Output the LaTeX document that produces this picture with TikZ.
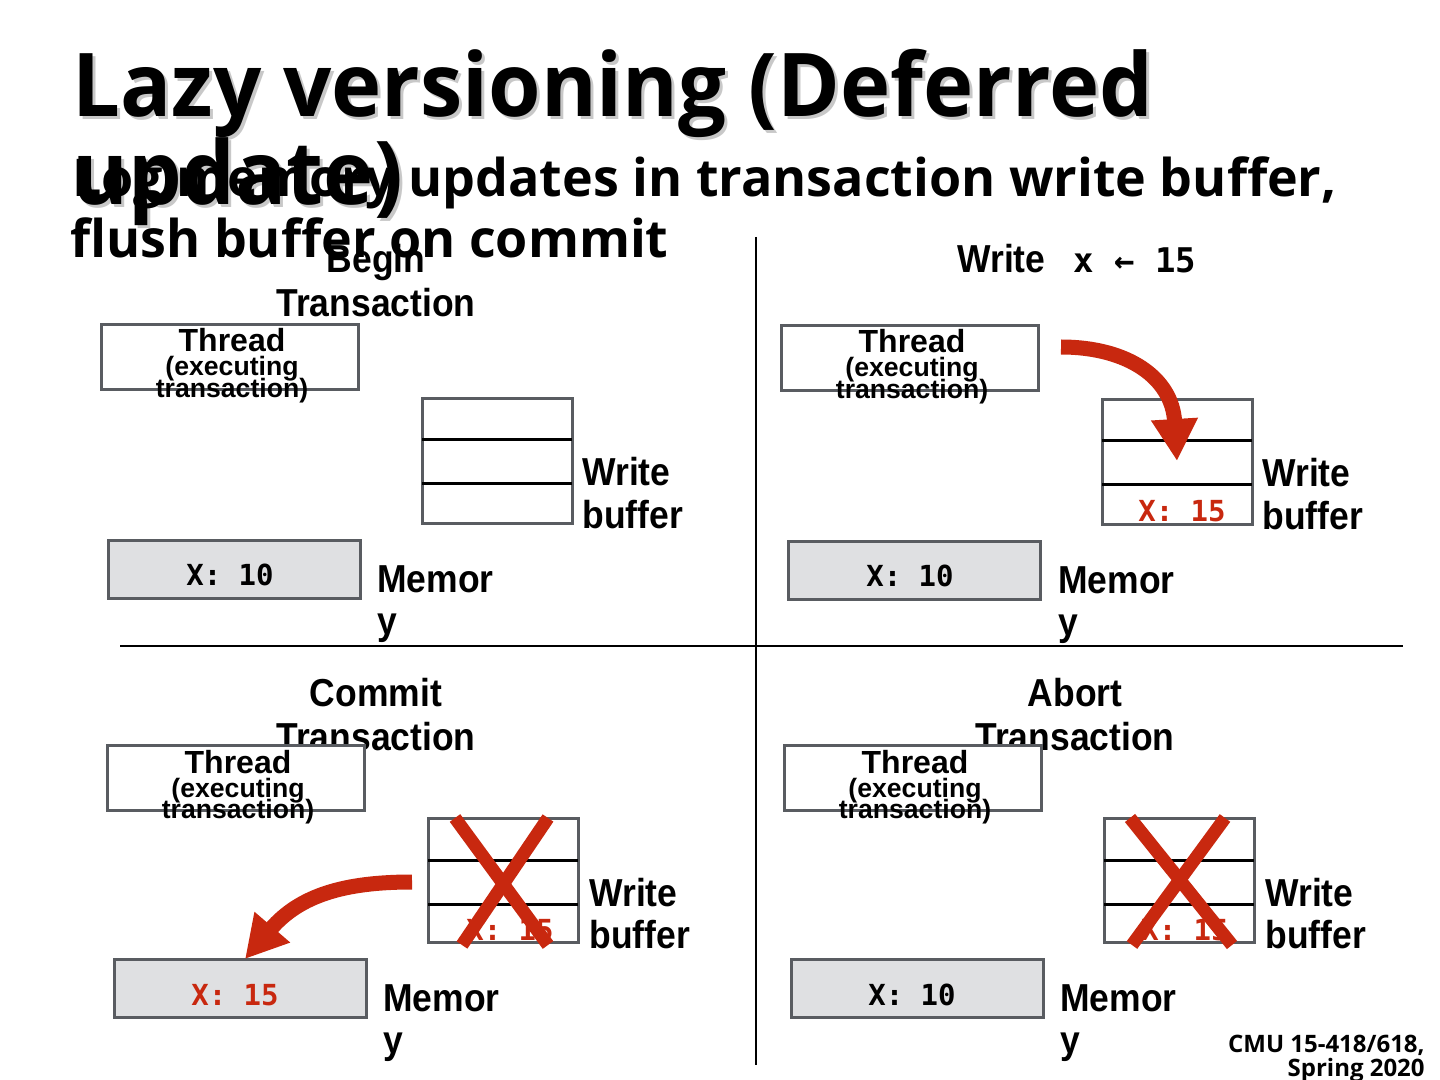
\documentclass[tikz,border=0pt]{standalone}
\usepackage{fontspec}
\setmainfont{Liberation Sans}
\newfontfamily\titlefont[FakeStretch=0.965]{Open Sans}
\newfontfamily\subfont{Open Sans}
\newfontfamily\lblfont[FakeStretch=0.91]{Liberation Sans}
\newfontfamily\thrfont{Liberation Sans}
\newfontfamily\monofont{DejaVu Sans Mono}
\usetikzlibrary{arrows.meta}
\definecolor{boxgray}{RGB}{89,92,97}
\definecolor{memgray}{RGB}{223,224,226}
\definecolor{redc}{RGB}{200,40,15}
\definecolor{shadowgray}{RGB}{200,200,200}
\tikzset{
  box/.style={draw=boxgray, line width=1.5pt, inner sep=0pt, rectangle},
  threadbox/.style={box, fill=white, minimum width=128.5pt, minimum height=32.5pt},
  membox/.style={box, fill=memgray, minimum width=126pt, minimum height=29pt},
  bufbox/.style={box, fill=white, minimum width=75pt, minimum height=62pt},
  txt/.style={inner sep=0pt, anchor=base west},
  ctxt/.style={inner sep=0pt, anchor=base},
  lbl/.style={txt, font=\lblfont\bfseries\fontsize{19.5}{22}\selectfont},
  clbl/.style={ctxt, font=\lblfont\bfseries\fontsize{19.5}{22}\selectfont},
  thr/.style={ctxt, font=\thrfont\bfseries\fontsize{16}{18}\selectfont},
  thrs/.style={ctxt, font=\thrfont\bfseries\fontsize{13.3}{14}\selectfont},
  mono/.style={ctxt, font=\monofont\bfseries\fontsize{14.5}{16}\selectfont},
  redmono/.style={mono, text=redc},
  bufline/.style={black, line width=1.5pt},
  cross/.style={redc, line width=6.5pt},
  bigarrow/.style={redc, line width=7.5pt, -{Triangle[width=22pt,length=21pt]}},
  divider/.style={black, line width=1pt},
  ttl/.style={txt, font=\titlefont\bfseries\fontsize{44}{44}\selectfont},
  sub/.style={txt, font=\subfont\bfseries\fontsize{26}{26}\selectfont},
  foot/.style={inner sep=0pt, anchor=base east, font=\subfont\bfseries\fontsize{12}{12}\selectfont},
}
\begin{document}
\begin{tikzpicture}[x=0.5pt,y=-0.5pt]
\useasboundingbox[fill=white] (0,0) rectangle (1440,1080);

% title with shadow
\node[ttl, text=shadowgray] (t1s) at (75,120) {Lazy versioning (Deferred};
\node[ttl, text=shadowgray] (t2s) at (75,208) {update)};
\node[ttl] (t1) at (72,117) {Lazy versioning (Deferred};
\node[ttl] (t2) at (72,205) {update)};
\node[sub] (s1) at (72,197) {Log memory updates in transaction write buffer,};
\node[sub] (s2) at (70,258) {flush buffer on commit};

% dividers
\coordinate (vtop) at (756,237);
\coordinate (vbot) at (756,1065);
\coordinate (hl) at (120,646);
\coordinate (hr) at (1403,646);
\draw[divider] (vtop) -- (vbot);
\draw[divider] (hl) -- (hr);

% ---------- panel top-left ----------
\node[clbl] (tlh1) at (376,273) {Begin};
\node[clbl] (tlh2) at (376,317) {Transaction};
\node[threadbox] (tlthr) at (229.5,357.5) {};
\node[thr] (tlthr1) at (232,352) {Thread};
\node[thrs] (tlthr2) at (232,376) {(executing};
\node[thrs] (tlthr3) at (232,398) {transaction)};
\node[bufbox] (tlbuf) at (497,461) {};
\draw[bufline] (422,440) -- (572,440);
\draw[bufline] (422,483) -- (572,483);
\node[lbl] (tlw1) at (582,486) {Write};
\node[lbl] (tlw2) at (582,528) {buffer};
\node[membox] (tlmem) at (234,569) {};
\node[mono] (tlmemt) at (230,585) {X: 10};
\node[lbl] (tlm1) at (377,592) {Memor};
\node[lbl] (tlm2) at (377,634) {y};

% ---------- panel top-right ----------
\node[lbl] (trh1) at (957,273) {Write};
\node[txt, font=\monofont\bfseries\fontsize{17}{18}\selectfont] (trh2) at (1073,273) {x ← 15};
\node[threadbox] (trthr) at (909.5,358.5) {};
\node[thr] (trthr1) at (912,353) {Thread};
\node[thrs] (trthr2) at (912,377) {(executing};
\node[thrs] (trthr3) at (912,399) {transaction)};
\node[bufbox] (trbuf) at (1177,462) {};
\draw[bufline] (1102,441) -- (1252,441);
\draw[bufline] (1102,484) -- (1252,484);
\node[redmono] (trbuft) at (1182,521) {X: 15};
\node[lbl] (trw1) at (1262,487) {Write};
\node[lbl] (trw2) at (1262,529) {buffer};
\node[membox] (trmem) at (914.5,570) {};
\node[mono] (trmemt) at (910,586) {X: 10};
\node[lbl] (trm1) at (1058,593) {Memor};
\node[lbl] (trm2) at (1058,635) {y};
\coordinate (a1s) at (1061,347);
\coordinate (a1e) at (1177,461);
\draw[bigarrow] (a1s) .. controls (1128,347) and (1172,378) .. (a1e);

% ---------- panel bottom-left ----------
\node[clbl] (blh1) at (376,706) {Commit};
\node[clbl] (blh2) at (376,750) {Transaction};
\node[threadbox] (blthr) at (235.5,777.5) {};
\node[thr] (blthr1) at (238,773) {Thread};
\node[thrs] (blthr2) at (238,797) {(executing};
\node[thrs] (blthr3) at (238,818) {transaction)};
\node[bufbox] (blbuf) at (503,880.5) {};
\draw[bufline] (428,860) -- (578,860);
\draw[bufline] (428,904) -- (578,904);
\node[redmono] (blbuft) at (510,940) {X: 15};
\draw[cross] (455,818) -- (548,945);
\draw[cross] (548,818) -- (462,945);
\node[lbl] (blw1) at (589,906) {Write};
\node[lbl] (blw2) at (589,948) {buffer};
\node[membox] (blmem) at (240,988.5) {};
\node[redmono] (blmemt) at (235,1005) {X: 15};
\node[lbl] (blm1) at (383,1011) {Memor};
\node[lbl] (blm2) at (383,1053) {y};
\coordinate (a2s) at (412,882);
\coordinate (a2e) at (245,959);
\draw[bigarrow] (a2s) .. controls (345,882) and (300,895) .. (a2e);

% ---------- panel bottom-right ----------
\node[clbl] (brh1) at (1075,706) {Abort};
\node[clbl] (brh2) at (1075,750) {Transaction};
\node[threadbox] (brthr) at (912.5,777.5) {};
\node[thr] (brthr1) at (915,773) {Thread};
\node[thrs] (brthr2) at (915,797) {(executing};
\node[thrs] (brthr3) at (915,818) {transaction)};
\node[bufbox] (brbuf) at (1179,880.5) {};
\draw[bufline] (1104,860) -- (1254,860);
\draw[bufline] (1104,904) -- (1254,904);
\node[redmono] (brbuft) at (1185,940) {X: 15};
\draw[cross] (1130,818) -- (1232,945);
\draw[cross] (1225,818) -- (1132,945);
\node[lbl] (brw1) at (1265,906) {Write};
\node[lbl] (brw2) at (1265,948) {buffer};
\node[membox] (brmem) at (917,988.5) {};
\node[mono] (brmemt) at (912,1005) {X: 10};
\node[lbl] (brm1) at (1060,1011) {Memor};
\node[lbl] (brm2) at (1060,1053) {y};

% footer
\node[foot] (f1) at (1425,1052) {CMU 15-418/618,};
\node[foot] (f2) at (1425,1076) {Spring 2020};
\end{tikzpicture}
\end{document}
